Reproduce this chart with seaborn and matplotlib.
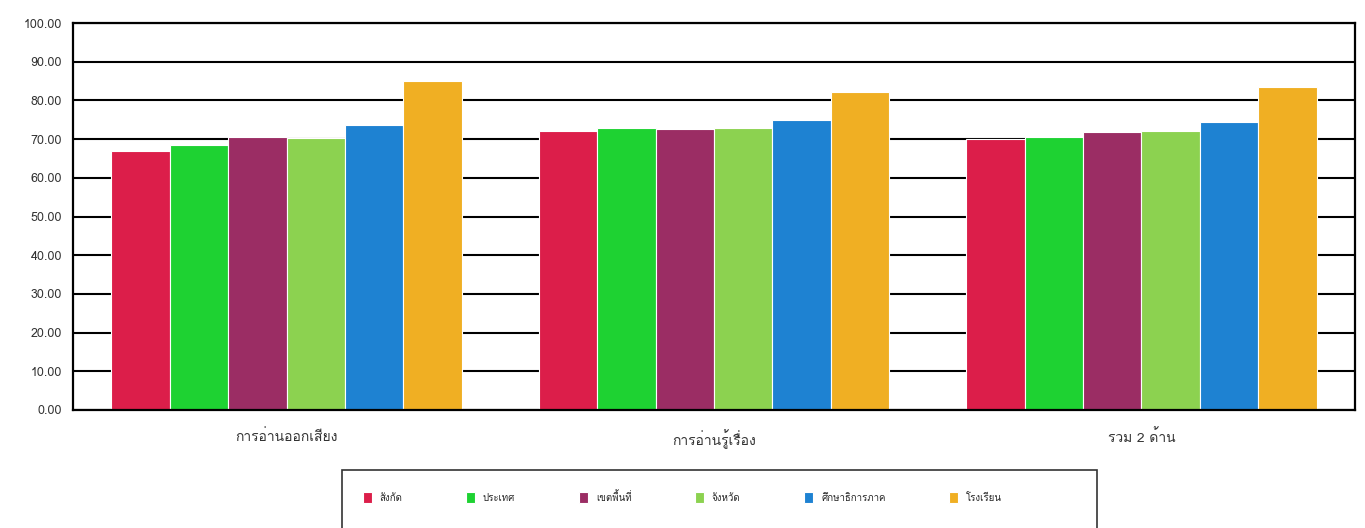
import pandas as pd
import numpy as np
import matplotlib
matplotlib.use("Agg")
import matplotlib.pyplot as plt
import seaborn as sns
from matplotlib import font_manager
from matplotlib.patches import Rectangle
from fontTools.ttLib import TTFont

# Data
categories = ["การอ่านออกเสียง", "การอ่านรู้เรื่อง", "รวม 2 ด้าน"]
levels = ["สังกัด", "ประเทศ", "เขตพื้นที่", "จังหวัด", "ศึกษาธิการภาค", "โรงเรียน"]
scores_sangkat = [67.0, 72.2, 69.9]
scores_prathet = [68.5, 72.8, 70.6]
scores_khet = [70.6, 72.5, 71.9]
scores_changwat = [70.4, 72.9, 72.2]
scores_phak = [73.6, 74.9, 74.5]
scores_school = [85.1, 82.1, 83.5]
colors = ["#DC1E4A", "#1ED232", "#9B2D64", "#8CD250", "#1E82D2", "#F0AF23"]

all_scores = [scores_sangkat, scores_prathet, scores_khet,
              scores_changwat, scores_phak, scores_school]
rows = []
for lev, vals in zip(levels, all_scores):
    for cat, v in zip(categories, vals):
        rows.append({"category": cat, "level": lev, "score": v})
df = pd.DataFrame(rows)

# find an installed font that has Thai glyphs
thai_font = None
for f in font_manager.fontManager.ttflist:
    try:
        cmap = TTFont(f.fname, fontNumber=0, lazy=True).getBestCmap()
        if cmap and 0x0E01 in cmap and 0x0E32 in cmap:
            thai_font = f.name
            break
    except Exception:
        pass

sns.set_style("white")
fams = ["DejaVu Sans"]
if thai_font:
    fams = [thai_font, "DejaVu Sans"]
plt.rcParams["font.family"] = fams

W, H = 1365, 528
fig = plt.figure(figsize=(W / 100, H / 100), dpi=100)
ax = fig.add_axes([73 / W, 1 - 410 / H, 1282 / W, 387 / H])

sns.barplot(data=df, x="category", y="score", hue="level", hue_order=levels,
            palette=colors, width=0.82, saturation=1, linewidth=0.8,
            edgecolor="white", ax=ax, legend=True)

ax.set_ylim(0, 100)
ax.set_yticks(np.arange(0, 101, 10))
ax.set_yticklabels([f"{v:.2f}" for v in np.arange(0, 101, 10)], fontsize=9, color="#333333")
ax.set_xlabel("")
ax.set_ylabel("")
ax.tick_params(axis="x", labelsize=10, colors="#333333", length=0, pad=14)
ax.tick_params(axis="y", length=0, pad=8)
ax.yaxis.grid(True, color="black", linewidth=1.5)
ax.set_axisbelow(True)
for s in ax.spines.values():
    s.set_color("black")
    s.set_linewidth(1.6)

# legend box (runs off the bottom edge like the original)
fig.patches.append(Rectangle((342 / W, -0.05), 755 / W, 1 - 470 / H + 0.05,
                             transform=fig.transFigure, fill=False,
                             edgecolor="#333333", linewidth=1.2))

handles, labels = ax.get_legend_handles_labels()
ax.legend(handles, labels, loc="center left",
          bbox_to_anchor=(363 / W, 1 - 497 / H, (1002 - 363) / W, 0.001),
          bbox_transform=fig.transFigure, mode="expand",
          ncol=6, frameon=False, fontsize=7,
          handlelength=0.9, handleheight=1.3, handletextpad=0.8,
          borderpad=0, borderaxespad=0)

fig.savefig("out.png", dpi=100)
